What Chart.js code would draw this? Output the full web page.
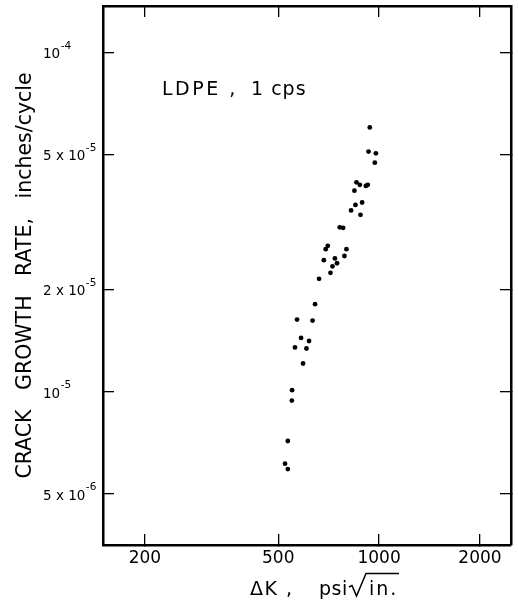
<!DOCTYPE html>
<html>
<head>
<meta charset="utf-8">
<script src="https://cdn.jsdelivr.net/npm/chart.js@4.4.1/dist/chart.umd.min.js"></script>
<style>
html,body{margin:0;padding:0;background:#fff;}
#wrap{position:relative;width:518px;height:604px;}
</style>
</head>
<body>
<div id="wrap"><canvas id="c"></canvas></div>
<script>
// ---- data (ΔK in psi·√in., rate in inches/cycle) ----
const deltaK = [938, 930, 978, 971, 856, 876, 913, 925, 844, 890, 850, 825, 880, 763, 781,
                703, 693, 799, 788, 684, 738, 749, 726, 716, 662, 644, 569, 633, 585, 618,
                561, 607, 593, 550, 549, 534, 524, 534];
const growthRate = [6.01e-5, 5.10e-5, 5.04e-5, 4.73e-5, 4.14e-5, 4.07e-5, 4.04e-5, 4.07e-5,
                    3.91e-5, 3.61e-5, 3.55e-5, 3.42e-5, 3.32e-5, 3.05e-5, 3.04e-5,
                    2.69e-5, 2.63e-5, 2.63e-5, 2.51e-5, 2.44e-5, 2.47e-5, 2.39e-5, 2.34e-5,
                    2.24e-5, 2.15e-5, 1.81e-5, 1.63e-5, 1.62e-5, 1.44e-5, 1.41e-5,
                    1.35e-5, 1.34e-5, 1.21e-5, 1.01e-5, 9.41e-6, 7.15e-6, 6.13e-6, 5.91e-6];
const xTickValues = [200, 500, 1000, 2000];
const xTickLabels = ['200', '500', '1000', '2000'];
const yTickValues = [1e-4, 5e-5, 2e-5, 1e-5, 5e-6];
const yTickLabels = ['10^-4', '5 x 10^-5', '2 x 10^-5', '10^-5', '5 x 10^-6'];
const xRange = [150, 2475];
const yRange = [3.53e-6, 1.37e-4];
const yTitle = 'CRACK   GROWTH   RATE,   inches/cycle';
const xTitleParts = ['ΔK ,', 'psi', 'in.'];
const annotationParts = ['LDPE ,', '1 cps'];

const FONT = '"DejaVu Sans", sans-serif';
Chart.defaults.font.family = FONT;
Chart.defaults.color = '#000';

const points = deltaK.map((k, i) => ({ x: k, y: growthRate[i] }));

function setTicks(values) {
  return (scale) => { scale.ticks = values.map(v => ({ value: v })); };
}
const inwardGrid = { display: true, drawOnChartArea: false, drawTicks: true, tickLength: -11,
                     color: '#000', lineWidth: 1.3 };
const frameBorder = { display: true, color: '#000', width: 2.5 };

const decor = {
  id: 'decor',
  afterDraw(chart) {
    const ctx = chart.ctx;
    const ys = chart.scales.y;
    ctx.save();
    ctx.fillStyle = '#000';
    ctx.strokeStyle = '#000';
    ctx.textAlign = 'left';
    ctx.textBaseline = 'alphabetic';
    // y tick labels with superscript exponents
    yTickValues.forEach((v, i) => {
      const py = ys.getPixelForValue(v);
      const [base, exp] = yTickLabels[i].split('^');
      ctx.font = '13.5px ' + FONT;
      const bx = 43;
      ctx.fillText(base, bx, py + 6);
      const w = ctx.measureText(base).width;
      ctx.font = '10.5px ' + FONT;
      ctx.fillText(exp, bx + w + 0.5, py - 3.5);
    });
    // annotation
    ctx.font = '19px ' + FONT;
    ctx.letterSpacing = '2.5px';
    ctx.fillText(annotationParts[0], 162, 95);
    ctx.letterSpacing = '1px';
    ctx.fillText(annotationParts[1], 251, 95);
    // x axis title
    ctx.font = '19px ' + FONT;
    ctx.letterSpacing = '1.5px';
    ctx.fillText(xTitleParts[0], 250, 595);
    ctx.letterSpacing = '0.5px';
    ctx.fillText(xTitleParts[1], 319, 595);
    ctx.letterSpacing = '2px';
    ctx.fillText(xTitleParts[2], 369, 595);
    ctx.lineWidth = 1.5;
    ctx.beginPath();
    ctx.moveTo(349, 587);
    ctx.lineTo(352, 585.5);
    ctx.lineTo(356.5, 596);
    ctx.lineTo(366, 573.5);
    ctx.lineTo(399, 573.5);
    ctx.stroke();
    ctx.restore();
  }
};

new Chart(document.getElementById('c'), {
  type: 'scatter',
  data: {
    datasets: [{
      data: points,
      backgroundColor: '#000',
      borderWidth: 0,
      pointRadius: 2.4,
      pointHoverRadius: 2.4
    }]
  },
  options: {
    responsive: true,
    maintainAspectRatio: false,
    animation: false,
    events: [],
    layout: { padding: { left: 13, top: 0, right: 0, bottom: 0 } },
    plugins: { legend: { display: false }, tooltip: { enabled: false } },
    scales: {
      x: {
        type: 'logarithmic', position: 'bottom', min: xRange[0], max: xRange[1],
        afterBuildTicks: setTicks(xTickValues),
        afterFit: (s) => { s.height = 59; },
        grid: inwardGrid, border: frameBorder,
        ticks: {
          autoSkip: false, maxRotation: 0, padding: 14,
          font: { size: 17, lineHeight: 1.2 },
          callback: (v) => { const i = xTickValues.indexOf(v); return i >= 0 ? xTickLabels[i] : ''; }
        }
      },
      x2: {
        type: 'logarithmic', position: 'top', min: xRange[0], max: xRange[1],
        afterBuildTicks: setTicks(xTickValues),
        afterFit: (s) => { s.height = 6; },
        grid: inwardGrid, border: frameBorder,
        ticks: { display: false }
      },
      y: {
        type: 'logarithmic', position: 'left', min: yRange[0], max: yRange[1],
        afterBuildTicks: setTicks(yTickValues),
        afterFit: (s) => { s.width = 90; },
        grid: inwardGrid, border: frameBorder,
        ticks: { display: false },
        title: { display: true, text: yTitle, padding: 0, font: { size: 20.5, lineHeight: 1.2 }, color: '#000' }
      },
      y2: {
        type: 'logarithmic', position: 'right', min: yRange[0], max: yRange[1],
        afterBuildTicks: setTicks(yTickValues),
        afterFit: (s) => { s.width = 7; },
        grid: inwardGrid, border: frameBorder,
        ticks: { display: false }
      }
    }
  },
  plugins: [decor]
});
</script>
</body>
</html>
